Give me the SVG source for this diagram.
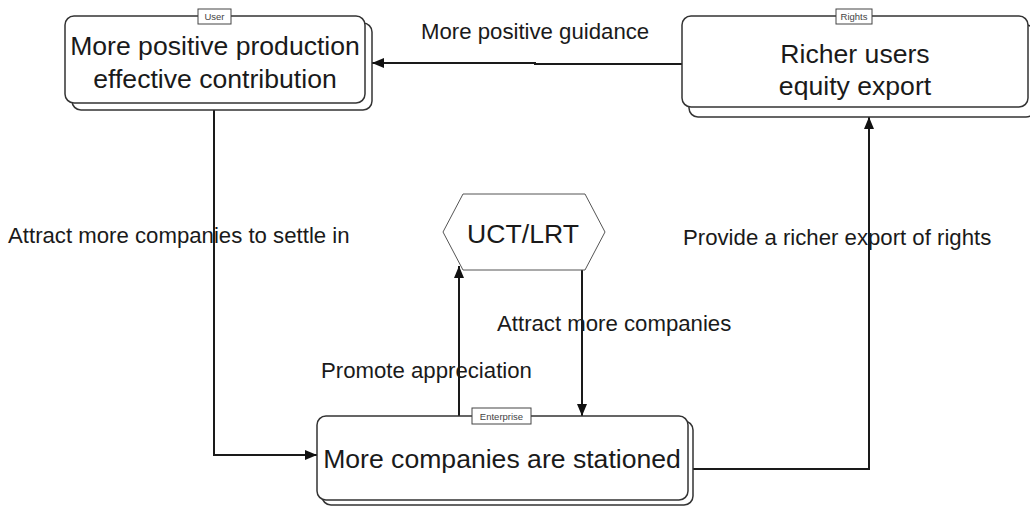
<svg xmlns="http://www.w3.org/2000/svg" width="1030" height="506" viewBox="0 0 1030 506">
<defs>
<marker id="arr" viewBox="0 0 12 10" refX="12" refY="5" markerWidth="12" markerHeight="10" markerUnits="userSpaceOnUse" orient="auto">
<path d="M0,0 L12,5 L0,10 Z" fill="#111"/>
</marker>
</defs>
<style>
.box{fill:#fff;stroke:#333;stroke-width:1.5}
.tag{fill:#fff;stroke:#444;stroke-width:1}
.tagt{font-family:"Liberation Sans",Arial,sans-serif;font-size:9.5px;fill:#444;text-anchor:middle}
.nt{font-family:"Liberation Sans",Arial,sans-serif;font-size:26.6px;fill:#1a1a1a;text-anchor:middle}
.lbl{font-family:"Liberation Sans",Arial,sans-serif;font-size:22.2px;fill:#1a1a1a}
.hex{fill:#fff;stroke:#555;stroke-width:1}
.ln{fill:none;stroke:#1a1a1a;stroke-width:2}
</style>
<rect width="1030" height="506" fill="#fff"/>
<g id="connectors">
<path class="ln" d="M682,64 H535 V63 H372" marker-end="url(#arr)"/>
<path class="ln" d="M214,110 V455 H317" marker-end="url(#arr)"/>
<path class="ln" d="M459,416 V266" marker-end="url(#arr)"/>
<path class="ln" d="M582,270 V416" marker-end="url(#arr)"/>
<path class="ln" d="M693,469 H869 V117" marker-end="url(#arr)"/>
</g>
<g id="node-user">
<rect class="box" x="72" y="23" width="300" height="87" rx="9"/>
<rect class="box" x="65" y="16" width="300" height="87" rx="9"/>
<rect class="tag" x="198" y="9" width="33" height="15"/>
<text class="tagt" x="214.5" y="20">User</text>
<text class="nt" x="215" y="55">More positive production</text>
<text class="nt" x="215" y="88">effective contribution</text>
</g>
<g id="node-rights">
<rect class="box" x="689" y="25" width="346" height="92" rx="9"/>
<rect class="box" x="682" y="16" width="346" height="91" rx="9"/>
<rect class="tag" x="836" y="9" width="36" height="15"/>
<text class="tagt" x="854" y="20">Rights</text>
<text class="nt" x="855" y="63">Richer users</text>
<text class="nt" x="855" y="95">equity export</text>
</g>
<g id="node-enterprise">
<rect class="box" x="322" y="421" width="371" height="84" rx="9"/>
<rect class="box" x="317" y="416" width="371" height="84" rx="9"/>
<rect class="tag" x="472" y="408" width="59" height="16"/>
<text class="tagt" x="501.5" y="419.5">Enterprise</text>
<text class="nt" x="502" y="468">More companies are stationed</text>
</g>
<g id="node-uct">
<polygon class="hex" points="443,232 463,194 585,194 605,232 585,270 463,270"/>
<text class="nt" x="523" y="243">UCT/LRT</text>
</g>
<g id="labels">
<text class="lbl" x="421" y="39">More positive guidance</text>
<text class="lbl" x="8" y="243">Attract more companies to settle in</text>
<text class="lbl" x="683" y="245">Provide a richer export of rights</text>
<text class="lbl" x="497" y="331">Attract more companies</text>
<text class="lbl" x="321" y="378">Promote appreciation</text>
</g>
</svg>
